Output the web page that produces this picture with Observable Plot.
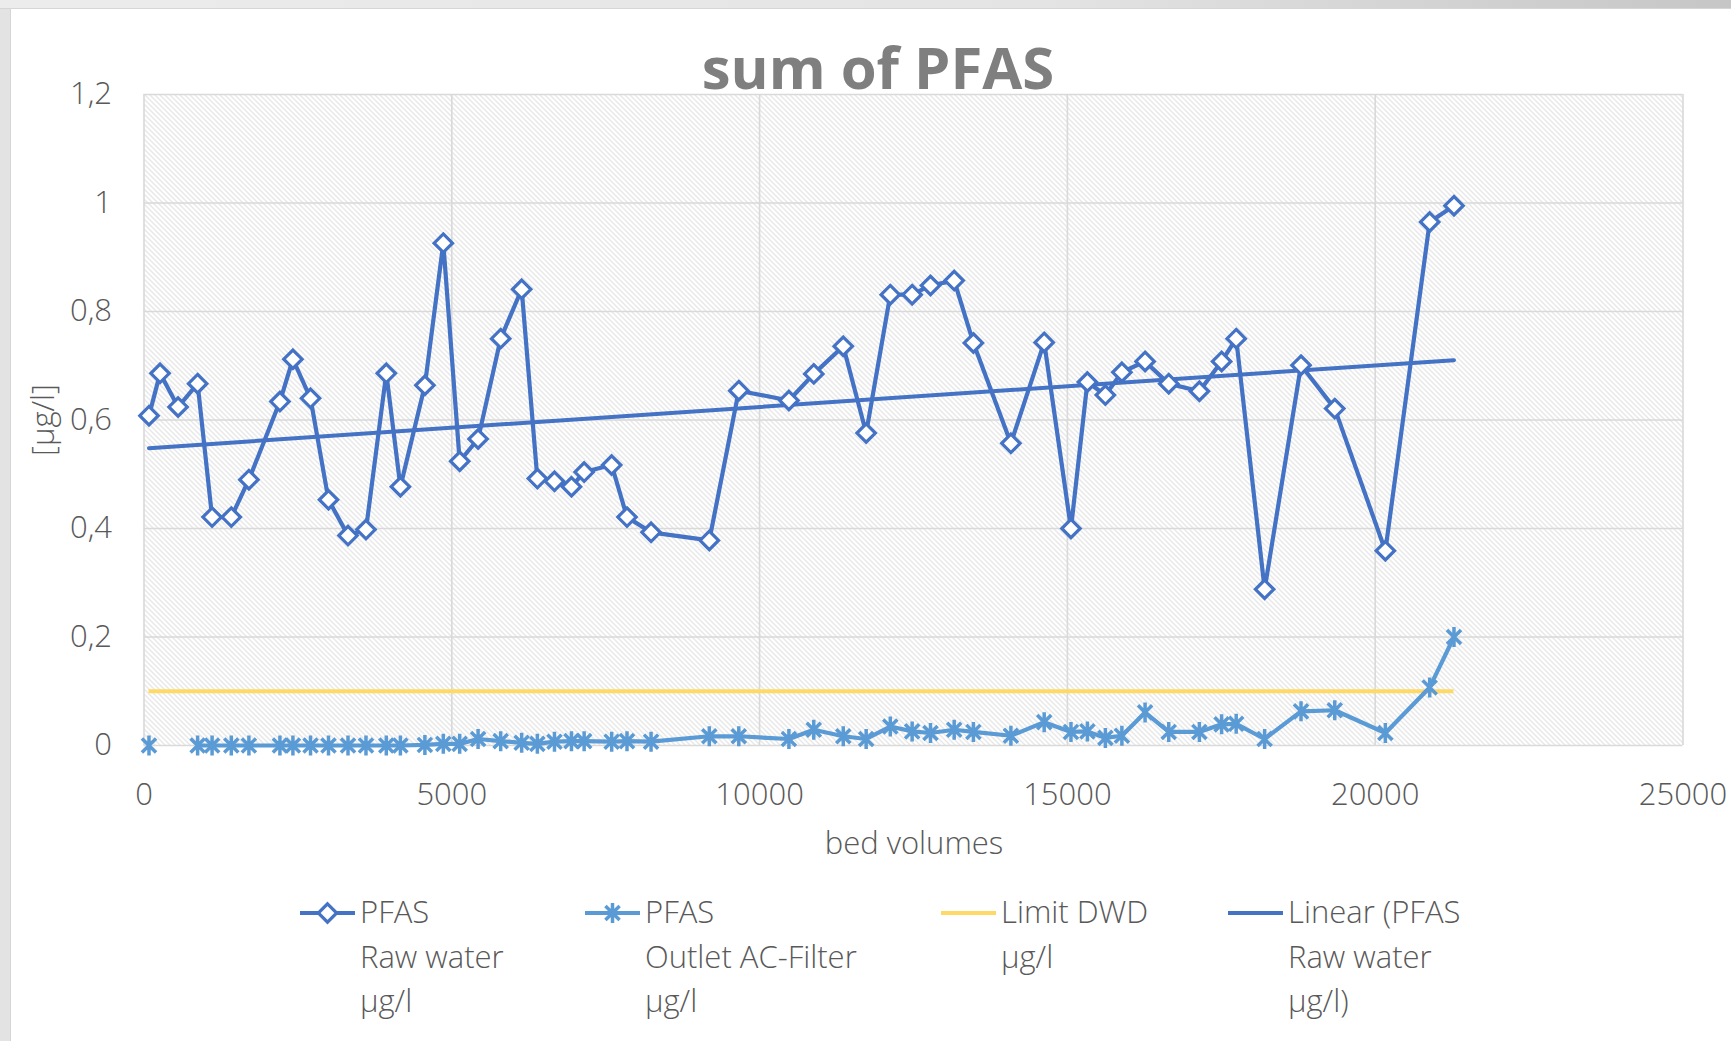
<!DOCTYPE html>
<html>
<head>
<meta charset="utf-8">
<script src="https://cdn.jsdelivr.net/npm/d3@7"></script>
<script src="https://cdn.jsdelivr.net/npm/@observablehq/plot@0.6"></script>
<style>
  html, body { margin: 0; padding: 0; }
  body { width: 1731px; height: 1041px; overflow: hidden; background: #ffffff; position: relative; font-family: "Open Sans", sans-serif; }
  #edgeLeft { position: absolute; left: 0; top: 0; width: 10px; height: 1041px; background: #e3e3e3; border-right: 1px solid #d6d6d6; }
  #edgeTop { position: absolute; left: 0; top: 0; width: 1731px; height: 8px; background: linear-gradient(to right, #ececec, #e4e4e4 60%, #c6c6c6); border-bottom: 1px solid #d6d6d6; }
  #chart { position: absolute; left: 0; top: 0; }
  #overlay { position: absolute; left: 0; top: 0; }
</style>
</head>
<body>
<div id="edgeLeft"></div>
<div id="edgeTop"></div>
<div id="chart"></div>
<svg id="overlay" width="1731" height="1041"></svg>
<script>
// ---------------- data ----------------
const bedVolumes = [81, 261, 554, 871, 1106, 1418, 1704, 2208, 2419, 2705, 2997, 3314, 3606, 3936, 4165, 4563, 4862, 5128, 5427, 5794, 6135, 6390, 6668, 6944, 7150, 7597, 7846, 8237, 9183, 9662, 10476, 10880, 11359, 11731, 12123, 12478, 12776, 13161, 13473, 14082, 14623, 15058, 15325, 15617, 15885, 16262, 16646, 17144, 17505, 17742, 18204, 18795, 19343, 20165, 20885, 21280];
const rawWater = [0.608, 0.686, 0.624, 0.667, 0.421, 0.421, 0.490, 0.634, 0.712, 0.640, 0.453, 0.387, 0.398, 0.686, 0.477, 0.664, 0.926, 0.524, 0.565, 0.750, 0.841, 0.492, 0.487, 0.477, 0.504, 0.517, 0.421, 0.393, 0.378, 0.654, 0.636, 0.685, 0.736, 0.576, 0.831, 0.831, 0.848, 0.857, 0.742, 0.557, 0.743, 0.400, 0.670, 0.646, 0.688, 0.708, 0.667, 0.653, 0.708, 0.750, 0.288, 0.701, 0.621, 0.359, 0.965, 0.995];
const outletAC = [0, null, null, 0, 0, 0, 0, 0, 0, 0, 0, 0, 0, 0, 0, 0.001, 0.003, 0.003, 0.012, 0.008, 0.005, 0.003, 0.007, 0.008, 0.008, 0.007, 0.008, 0.007, 0.017, 0.017, 0.012, 0.029, 0.017, 0.012, 0.035, 0.026, 0.023, 0.029, 0.025, 0.018, 0.043, 0.025, 0.026, 0.014, 0.018, 0.061, 0.025, 0.025, 0.039, 0.040, 0.012, 0.063, 0.065, 0.023, 0.107, 0.200];
const limitDWD = 0.1;
const xTicks = [0, 5000, 10000, 15000, 20000, 25000];
const yTicks = [0, 0.2, 0.4, 0.6, 0.8, 1, 1.2];
const titleText = "sum of PFAS";
const xLabel = "bed volumes";
const yLabel = "[µg/l]";
const legendItems = [
  {key: "raw", lines: ["PFAS", "Raw water", "µg/l"]},
  {key: "outlet", lines: ["PFAS", "Outlet AC-Filter", "µg/l"]},
  {key: "limit", lines: ["Limit DWD", "µg/l"]},
  {key: "trend", lines: ["Linear (PFAS", "Raw water", "µg/l)"]}
];

// ---------------- styles ----------------
const C_RAW = "#4472C4", C_OUT = "#5B9BD5", C_LIM = "#FFD966", C_GRID = "#d9d9d9", C_TXT = "#595959";

const raw = bedVolumes.map((x, i) => ({x, y: rawWater[i]}));
const outlet = bedVolumes.map((x, i) => ({x, y: outletAC[i]}));

// star marker: vertical bar + X
const starSymbol = {
  draw(ctx, size) {
    const r = Math.sqrt(size / Math.PI);
    const d = r / Math.SQRT2;
    ctx.moveTo(0, -r); ctx.lineTo(0, r);
    ctx.moveTo(-d, -d); ctx.lineTo(d, d);
    ctx.moveTo(-d, d); ctx.lineTo(d, -d);
  }
};

const W = 1731, H = 830;
const chart = Plot.plot({
  width: W, height: H,
  marginLeft: 143.5, marginRight: 48.5, marginTop: 94, marginBottom: H - 745,
  x: {domain: [0, 25000], axis: null},
  y: {domain: [0, 1.2], axis: null},
  style: {fontFamily: "'Open Sans', sans-serif", fontSize: "31px", fontWeight: 300, color: C_TXT, background: "transparent", overflow: "visible"},
  marks: [
    Plot.frame({fill: "url(#hatch)", stroke: null}),
    Plot.gridX(xTicks, {stroke: C_GRID, strokeOpacity: 1, strokeWidth: 1.6}),
    Plot.gridY(yTicks, {stroke: C_GRID, strokeOpacity: 1, strokeWidth: 1.6}),
    Plot.axisX(xTicks, {tickSize: 0, tickPadding: 37, label: null, fill: C_TXT, tickFormat: d => String(d)}),
    Plot.axisY(yTicks, {tickSize: 0, tickPadding: 32, label: null, fill: C_TXT, tickFormat: d => String(d).replace(".", ",")}),
    Plot.ruleY([limitDWD], {x1: d3.min(bedVolumes), x2: d3.max(bedVolumes), stroke: C_LIM, strokeWidth: 4}),
    Plot.line(outlet, {x: "x", y: "y", stroke: C_OUT, strokeWidth: 4.2}),
    Plot.dot(outlet, {x: "x", y: "y", symbol: starSymbol, stroke: C_OUT, strokeWidth: 3.5, r: 10}),
    Plot.line(raw, {x: "x", y: "y", stroke: C_RAW, strokeWidth: 4.2}),
    Plot.linearRegressionY(raw, {x: "x", y: "y", stroke: C_RAW, strokeWidth: 4, ci: 0}),
    Plot.dot(raw, {x: "x", y: "y", symbol: "diamond2", fill: "white", stroke: C_RAW, strokeWidth: 3.2, r: 8.3})
  ]
});
document.getElementById("chart").appendChild(chart);

// hatch pattern for the plot area
const svgSel = d3.select(chart);
const defs = svgSel.insert("defs", ":first-child");
const pat = defs.append("pattern").attr("id", "hatch").attr("patternUnits", "userSpaceOnUse")
  .attr("width", 5).attr("height", 5);
pat.append("rect").attr("width", 5).attr("height", 5).attr("fill", "#ffffff");
pat.append("path").attr("d", "M-1,-1L6,6M-1,4L1,6M4,-1L6,1").attr("stroke", "#d0d0d0").attr("stroke-width", 1);

// ---------------- texts & legend ----------------
const ov = d3.select("#overlay");
ov.append("text").text(titleText).attr("x", 878).attr("y", 89)
  .attr("text-anchor", "middle").attr("font-family", "'Open Sans', sans-serif")
  .attr("font-weight", 700).attr("font-size", 58).attr("fill", "#7f7f7f");
ov.append("text").text(xLabel).attr("x", 914).attr("y", 854)
  .attr("text-anchor", "middle").attr("font-family", "'Open Sans', sans-serif")
  .attr("font-weight", 300).attr("font-size", 31).attr("fill", C_TXT);
ov.append("text").text(yLabel).attr("transform", "translate(43,420) rotate(-90)")
  .attr("text-anchor", "middle").attr("dy", "0.35em").attr("font-family", "'Open Sans', sans-serif")
  .attr("font-weight", 300).attr("font-size", 31).attr("fill", C_TXT);

const legendX = [300, 585, 941, 1228];
const legendY = 913;
const diamondPath = d3.symbol(d3.symbolDiamond2, Math.PI * 8.3 * 8.3)();
const starPath = d3.symbol(starSymbol, Math.PI * 10 * 10)();
legendItems.forEach((it, i) => {
  const g = ov.append("g").attr("transform", `translate(${legendX[i]},${legendY})`);
  const color = it.key === "outlet" ? C_OUT : it.key === "limit" ? C_LIM : C_RAW;
  g.append("line").attr("x1", 0).attr("x2", 55).attr("y1", 0).attr("y2", 0)
    .attr("stroke", color).attr("stroke-width", 4);
  if (it.key === "raw") g.append("path").attr("d", diamondPath).attr("transform", "translate(27.5,0)")
    .attr("fill", "white").attr("stroke", C_RAW).attr("stroke-width", 3.2);
  if (it.key === "outlet") g.append("path").attr("d", starPath).attr("transform", "translate(27.5,0)")
    .attr("fill", "none").attr("stroke", C_OUT).attr("stroke-width", 3.5);
  it.lines.forEach((ln, j) => {
    g.append("text").text(ln).attr("x", 60).attr("y", 10 + j * 44.5)
      .attr("font-family", "'Open Sans', sans-serif").attr("font-weight", 300)
      .attr("font-size", 31).attr("fill", C_TXT);
  });
});
</script>
</body>
</html>
